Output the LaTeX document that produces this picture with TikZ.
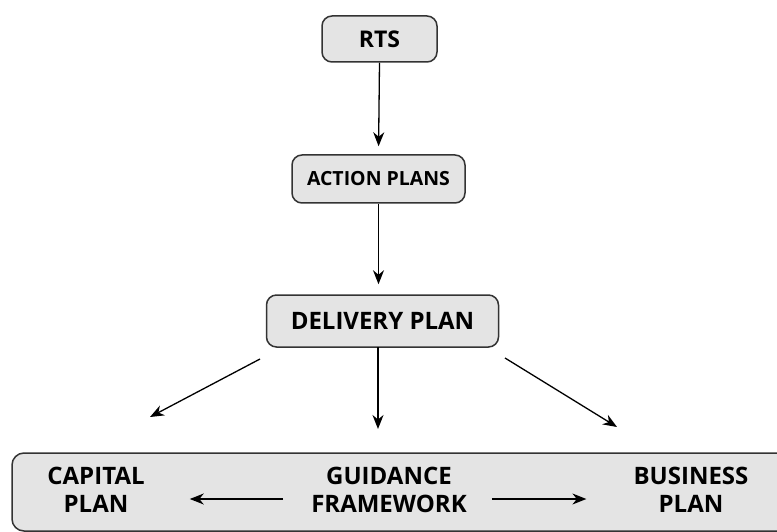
\documentclass[tikz,border=0pt]{standalone}
\usepackage{fontspec}
\setmainfont{Open Sans}[BoldFont={* Bold}]
\usetikzlibrary{arrows.meta}
\definecolor{boxfill}{HTML}{E4E4E4}
\definecolor{boxline}{HTML}{333333}
\tikzset{
  topbox/.style={draw=boxline, line width=1.5pt, fill=boxfill, rounded corners=10pt, inner sep=0pt, font=\bfseries},
  lbl/.style={align=center, inner sep=0pt, font=\bfseries\fontsize{24}{28}\selectfont},
  arr/.style={-{Stealth[length=14pt,width=11pt,inset=4.5pt]}, line width=1.3pt, black},
}
\begin{document}
\begin{tikzpicture}[x=1pt,y=-1pt]
\useasboundingbox (0,0) rectangle (777,532);
\node[topbox, minimum width=115pt, minimum height=46pt, font=\bfseries\fontsize{23}{27}\selectfont] (rts) at (379.5,39) {RTS};
\node[topbox, minimum width=173pt, minimum height=48pt, font=\bfseries\fontsize{19.5}{23}\selectfont] (act) at (378.5,179) {ACTION PLANS};
\node[topbox, minimum width=232pt, minimum height=52pt, font=\bfseries\fontsize{24}{28}\selectfont] (del) at (382.5,321) {DELIVERY PLAN};
\draw[draw=boxline, line width=1.5pt, fill=boxfill, rounded corners=12pt] (12,453) rectangle (800,531);
\node[lbl] (cap) at (96,490) {CAPITAL\\PLAN};
\node[lbl] (guid) at (389,490) {GUIDANCE\\FRAMEWORK};
\node[lbl] (bus) at (691,490) {BUSINESS\\PLAN};
\draw[arr, shorten >=8pt] (rts.south) -- (act.north);
\draw[arr, shorten >=10pt] (act.south) -- (act.south |- del.north);
\coordinate (ml) at (378,347);
\coordinate (mr) at (378,429);
\draw[arr] (ml) -- (mr);
\coordinate (l1) at (260,359);
\coordinate (l2) at (150,417);
\draw[arr] (l1) -- (l2);
\coordinate (r1) at (505,358);
\coordinate (r2) at (617,427);
\draw[arr] (r1) -- (r2);
\draw[arr, shorten <=28pt, shorten >=45pt] ([yshift=-9pt]guid.west) -- ([yshift=-9pt]guid.west -| cap.east);
\draw[arr, shorten <=25pt, shorten >=47pt] ([yshift=-9pt]guid.east) -- ([yshift=-9pt]guid.east -| bus.west);
\end{tikzpicture}
\end{document}
